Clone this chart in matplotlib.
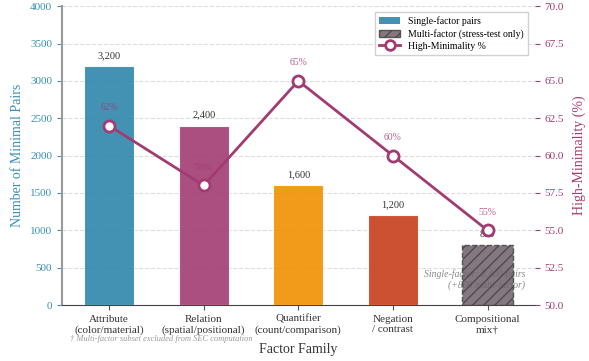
import matplotlib.pyplot as plt
from matplotlib.patches import Patch
from matplotlib.lines import Line2D

plt.rcParams['font.family'] = ['Liberation Serif', 'DejaVu Serif']

families = ['Attribute\n(color/material)', 'Relation\n(spatial/positional)',
            'Quantifier\n(count/comparison)', 'Negation\n/ contrast',
            'Compositional\nmix\u2020']
counts = [3200, 2400, 1600, 1200, 800]
high_min = [62, 58, 65, 60, 55]
colors = ['#2E86AB', '#A23B72', '#F18F01', '#C73E1D', '#6E5F6A']

blue = '#3A8FB7'
mag = '#A23B72'

fig, ax = plt.subplots(figsize=(5.89, 3.61), dpi=100)
fig.subplots_adjust(left=0.105, right=0.908, top=0.983, bottom=0.155)

x = list(range(len(families)))
for i in x:
    if i < 4:
        ax.bar(i, counts[i], width=0.53, color=colors[i], alpha=0.9,
               edgecolor='white', linewidth=0.8, zorder=3)
    else:
        ax.bar(i, counts[i], width=0.53, color=colors[i], alpha=0.85,
               hatch='///', edgecolor='#444444', linestyle='--',
               linewidth=1.0, zorder=3)
    ax.text(i, counts[i] + 80, f'{counts[i]:,}', ha='center', va='bottom',
            fontsize=7.5, color='#333333', zorder=2)

ax.set_xlim(-0.5, 4.5)
ax.set_ylim(0, 4000)
ax.set_xticks(x)
ax.set_xticklabels(families, fontsize=8, color='#333333')
ax.set_ylabel('Number of Minimal Pairs', fontsize=10, color=blue)
ax.set_xlabel('Factor Family', fontsize=10, color='#333333', labelpad=6)
ax.tick_params(axis='y', colors=blue, labelsize=8)
ax.tick_params(axis='x', colors='#555555')
for t in ax.get_xticklabels():
    t.set_color('#333333')
ax.grid(axis='y', linestyle='--', color='#dddddd', linewidth=0.8, zorder=0)
ax.set_axisbelow(True)
ax.spines['top'].set_visible(False)
ax.spines['right'].set_visible(False)
ax.spines['left'].set_color('#999999')
ax.spines['left'].set_linewidth(1.5)
ax.spines['bottom'].set_color('#444444')

ax.text(0.98, 0.05, 'Single-factor: 8,400 pairs\n(+800 multi-factor)',
        transform=ax.transAxes, ha='right', va='bottom', fontsize=7,
        style='italic', color='#888888', zorder=1)
ax.text(0.21, -0.10, '\u2020 Multi-factor subset excluded from SEC computation',
        transform=ax.transAxes, ha='center', va='top', fontsize=6,
        style='italic', color='#999999')

ax2 = ax.twinx()
ax2.plot(x, high_min, color=mag, linewidth=2, marker='o', markersize=8,
         markerfacecolor='white', markeredgecolor=mag, markeredgewidth=2,
         zorder=5)
for i in x:
    ax2.text(i, high_min[i] + 0.9, f'{high_min[i]}%', ha='center',
             va='bottom', fontsize=7, color=mag, alpha=0.8)
ax2.set_ylim(50, 70)
ax2.set_ylabel('High-Minimality (%)', fontsize=10, color=mag, labelpad=6)
ax2.tick_params(axis='y', colors=mag, labelsize=8)
for s in ['top', 'right', 'left', 'bottom']:
    ax2.spines[s].set_visible(False)

handles = [Patch(facecolor=colors[0], alpha=0.9, label='Single-factor pairs'),
           Patch(facecolor=colors[4], alpha=0.85, hatch='///',
                 edgecolor='#444444', label='Multi-factor (stress-test only)'),
           Line2D([], [], color=mag, linewidth=2, marker='o', markersize=7,
                  markerfacecolor='white', markeredgewidth=2,
                  label='High-Minimality %')]
ax2.legend(handles=handles, loc='upper right', fontsize=7, frameon=True,
           fancybox=False, framealpha=0.9, edgecolor='#cccccc',
           labelspacing=0.3, handlelength=2.2,
           bbox_to_anchor=(0.995, 0.995))

fig.savefig('out.png', dpi=100)
